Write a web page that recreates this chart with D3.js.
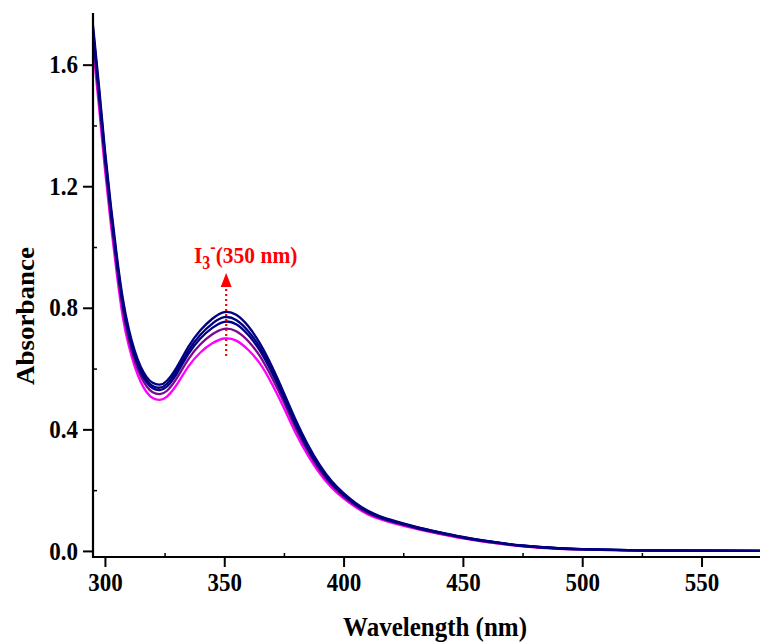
<!DOCTYPE html>
<html>
<head>
<meta charset="utf-8">
<script src="https://cdn.jsdelivr.net/npm/d3@7"></script>
<style>
  html, body { margin: 0; padding: 0; background: #fff; }
  svg { display: block; }
  text { font-family: "Liberation Serif", "Times New Roman", serif; font-weight: bold; }
</style>
</head>
<body>
<svg id="chart" width="760" height="643"></svg>
<script>
// ---- data ----
const wavelengths = [295, 297.5, 300, 302.5, 305, 307.5, 310, 312.5, 315, 317.5, 320, 323, 326, 330, 335, 340, 345, 350, 355, 360, 365, 370, 375, 380, 385, 390, 395, 400, 405, 410, 415, 420, 430, 440, 450, 460, 475, 490, 500, 525, 550, 575];

const series1 = [1.66, 1.462, 1.255, 1.073, 0.91, 0.769, 0.675, 0.606, 0.556, 0.522, 0.503, 0.497, 0.508, 0.546, 0.607, 0.653, 0.683, 0.699, 0.692, 0.662, 0.616, 0.549, 0.47, 0.386, 0.315, 0.255, 0.208, 0.173, 0.144, 0.121, 0.105, 0.093, 0.073, 0.056, 0.041, 0.029, 0.015, 0.007, 0.005, 0.001, 0.001, 0.0];
const series2 = [1.686, 1.487, 1.279, 1.096, 0.932, 0.794, 0.695, 0.625, 0.575, 0.541, 0.522, 0.516, 0.527, 0.567, 0.631, 0.68, 0.713, 0.731, 0.723, 0.691, 0.64, 0.57, 0.489, 0.402, 0.328, 0.265, 0.216, 0.179, 0.149, 0.125, 0.109, 0.096, 0.076, 0.058, 0.043, 0.030, 0.016, 0.008, 0.005, 0.001, 0.001, 0.0];
const series3 = [1.704, 1.505, 1.296, 1.112, 0.948, 0.809, 0.71, 0.639, 0.588, 0.554, 0.535, 0.529, 0.541, 0.582, 0.648, 0.699, 0.734, 0.754, 0.746, 0.711, 0.658, 0.586, 0.502, 0.414, 0.337, 0.273, 0.222, 0.184, 0.153, 0.129, 0.111, 0.099, 0.077, 0.06, 0.044, 0.032, 0.017, 0.008, 0.005, 0.002, 0.001, 0.0];
const series4 = [1.716, 1.516, 1.307, 1.123, 0.958, 0.819, 0.719, 0.648, 0.596, 0.562, 0.543, 0.537, 0.55, 0.592, 0.659, 0.711, 0.748, 0.769, 0.76, 0.724, 0.669, 0.595, 0.51, 0.421, 0.343, 0.277, 0.226, 0.187, 0.155, 0.131, 0.113, 0.10, 0.079, 0.061, 0.045, 0.032, 0.017, 0.009, 0.006, 0.002, 0.001, 0.0];
const series5 = [1.73, 1.53, 1.32, 1.135, 0.97, 0.83, 0.73, 0.658, 0.606, 0.572, 0.553, 0.547, 0.56, 0.603, 0.672, 0.726, 0.764, 0.786, 0.777, 0.74, 0.682, 0.607, 0.52, 0.43, 0.35, 0.283, 0.23, 0.19, 0.158, 0.133, 0.115, 0.102, 0.08, 0.062, 0.046, 0.033, 0.018, 0.009, 0.006, 0.002, 0.001, 0.0];

const seriesList = [series1, series2, series3, series4, series5];
const seriesColors = ["#ff00ff", "#7d0a8c", "#00008b", "#00007f", "#000080"];

const xTicks = [300, 350, 400, 450, 500, 550];
const xMinorTicks = [325, 375, 425, 475, 525];
const yTicks = [0.0, 0.4, 0.8, 1.2, 1.6];
const yMinorTicks = [0.2, 0.6, 1.0, 1.4];

const xTitle = "Wavelength (nm)";
const yTitle = "Absorbance";

// ---- layout ----
const svg = d3.select("#chart");
const mLeft = 93, mRight = 760, mTop = 13, mBottom = 557;

const x = d3.scaleLinear().domain([295, 574.5]).range([mLeft, mRight]);
const y = d3.scaleLinear().domain([-0.02, 1.77]).range([mBottom, mTop]);

svg.append("defs").append("clipPath").attr("id", "plotclip")
  .append("rect").attr("x", mLeft).attr("y", mTop).attr("width", mRight - mLeft).attr("height", mBottom - mTop);

// ---- curves ----
const line = d3.line()
  .x((d, i) => x(wavelengths[i]))
  .y(d => y(d))
  .curve(d3.curveNatural);

const gLines = svg.append("g").attr("clip-path", "url(#plotclip)");
seriesList.forEach((s, k) => {
  gLines.append("path")
    .datum(s)
    .attr("d", line)
    .attr("fill", "none")
    .attr("stroke", seriesColors[k])
    .attr("stroke-width", 2.3);
});

// ---- axes ----
const fmt = d3.format(".1f");
const yAxis = d3.axisLeft(y).tickValues(yTicks).tickFormat(fmt).tickSize(10).tickPadding(5);
const gy = svg.append("g").attr("transform", `translate(${mLeft},0)`).call(yAxis);
gy.select(".domain").remove();
gy.selectAll(".tick line").attr("stroke", "#000").attr("stroke-width", 2);
gy.selectAll(".tick text")
  .attr("font-size", 23).attr("fill", "#000")
  .attr("font-family", "Liberation Serif").attr("font-weight", "bold")
  .attr("transform", "scale(1,1.1)")
  .attr("y", 0).attr("dy", "0.32em");

const yMinor = d3.axisRight(y).tickValues(yMinorTicks).tickFormat("").tickSize(4);
const gym = svg.append("g").attr("transform", `translate(${mLeft},0)`).call(yMinor);
gym.select(".domain").remove();
gym.selectAll(".tick line").attr("stroke", "#000").attr("stroke-width", 1.5);

const xAxis = d3.axisBottom(x).tickValues(xTicks).tickFormat(d3.format("d")).tickSize(10).tickPadding(6);
const gx = svg.append("g").attr("transform", `translate(0,${mBottom})`).call(xAxis);
gx.select(".domain").remove();
gx.selectAll(".tick line").attr("stroke", "#000").attr("stroke-width", 2);
gx.selectAll(".tick text")
  .attr("font-size", 23).attr("fill", "#000")
  .attr("font-family", "Liberation Serif").attr("font-weight", "bold")
  .attr("transform", "translate(0,14) scale(1,1.1) translate(0,-14)");

const xMinor = d3.axisTop(x).tickValues(xMinorTicks).tickFormat("").tickSize(4);
const gxm = svg.append("g").attr("transform", `translate(0,${mBottom})`).call(xMinor);
gxm.select(".domain").remove();
gxm.selectAll(".tick line").attr("stroke", "#000").attr("stroke-width", 1.5);

// axis lines
svg.append("line").attr("x1", mLeft).attr("x2", mLeft).attr("y1", mTop).attr("y2", mBottom + 1)
  .attr("stroke", "#000").attr("stroke-width", 2.2);
svg.append("line").attr("x1", mLeft - 1).attr("x2", mRight).attr("y1", mBottom).attr("y2", mBottom)
  .attr("stroke", "#000").attr("stroke-width", 2.2);

// ---- titles ----
svg.append("g").attr("transform", "translate(435,636) scale(1,1.12)")
  .append("text").attr("text-anchor", "middle").attr("font-size", 25).attr("fill", "#000")
  .text(xTitle);

svg.append("g").attr("transform", "translate(34,316) rotate(-90) scale(1.08,1)")
  .append("text").attr("text-anchor", "middle").attr("font-size", 25).attr("fill", "#000")
  .text(yTitle);

// ---- annotation ----
const peakX = x(350.8);
const arrowTipY = 273, arrowBaseY = 287, dotEndY = 356;
svg.append("line")
  .attr("x1", peakX).attr("x2", peakX).attr("y1", dotEndY).attr("y2", arrowBaseY)
  .attr("stroke", "#ff0000").attr("stroke-width", 2.2).attr("stroke-dasharray", "2,3");
svg.append("path")
  .attr("d", `M${peakX},${arrowTipY} L${peakX - 5.5},${arrowBaseY} L${peakX + 5.5},${arrowBaseY} Z`)
  .attr("fill", "#ff0000");

const ann = svg.append("g").attr("transform", "translate(194,263) scale(1,1.12)");
const t = ann.append("text").attr("font-size", 21.5).attr("fill", "#ff0000");
t.append("tspan").text("I");
t.append("tspan").attr("font-size", 16).attr("dy", 5).text("3");
t.append("tspan").attr("font-size", 16).attr("dy", -14).text("-");
t.append("tspan").attr("dy", 9).attr("dx", 0).text("(350 nm)");
</script>
</body>
</html>
